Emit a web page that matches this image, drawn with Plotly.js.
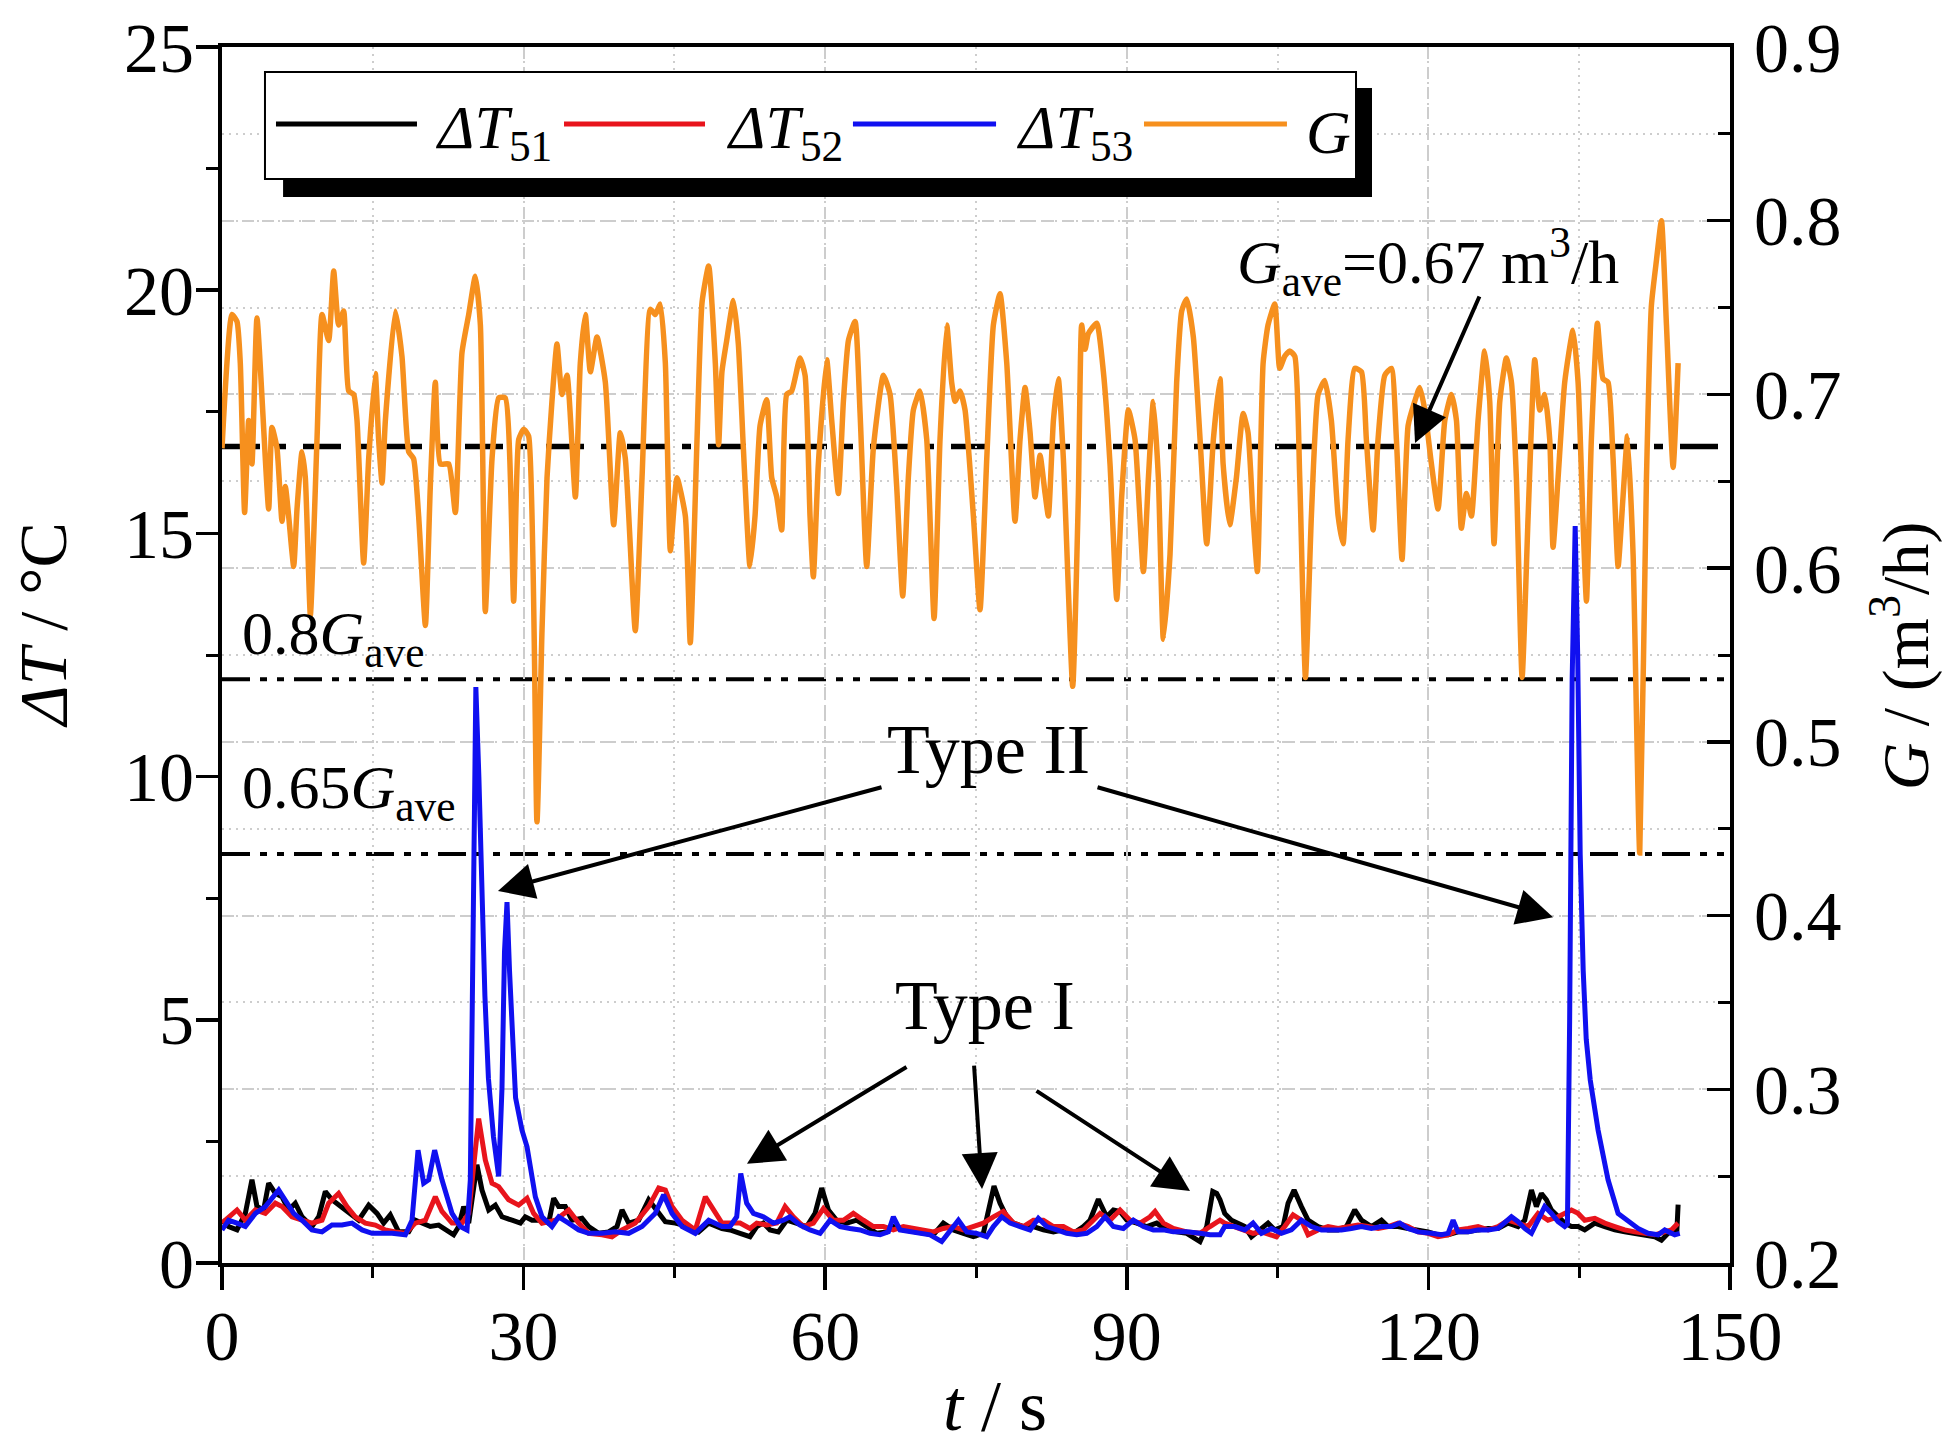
<!DOCTYPE html>
<html>
<head>
<meta charset="utf-8">
<script src="https://cdn.plot.ly/plotly-3.0.1.min.js"></script>
<style>html,body{margin:0;padding:0;background:#fff;}#chart{width:1950px;height:1446px;}</style>
</head>
<body>
<div id="chart"></div>
<script>
// ---------------- data (time in s, value) ----------------
const G_series = [
[0,0.669],[0.99,0.746],[1.49,0.742],[1.82,0.718],[2.25,0.632],[2.65,0.685],[2.98,0.660],[3.48,0.744],[4.64,0.634],[4.97,0.681],
[5.47,0.669],[5.97,0.627],[6.30,0.647],[6.63,0.630],[7.13,0.601],[7.46,0.634],[7.96,0.667],[8.29,0.652],[8.79,0.573],[9.45,0.674],
[9.95,0.746],[10.61,0.731],[11.11,0.771],[11.60,0.740],[12.10,0.748],[12.60,0.702],[13.10,0.700],[13.43,0.685],[14.09,0.603],[14.59,0.663],
[15.25,0.712],[15.58,0.674],[15.92,0.649],[16.25,0.685],[17.24,0.748],[17.90,0.722],[18.57,0.667],[19.06,0.663],[19.56,0.630],[20.23,0.567],
[20.72,0.647],[21.22,0.707],[21.72,0.660],[22.55,0.660],[23.21,0.632],[23.87,0.724],[24.54,0.746],[25.20,0.768],[25.70,0.740],[26.19,0.575],
[26.86,0.663],[27.52,0.698],[28.18,0.698],[29.01,0.581],[29.51,0.674],[30.01,0.680],[30.50,0.676],[31.33,0.454],[31.83,0.564],[32.33,0.652],
[32.82,0.696],[33.32,0.729],[33.82,0.700],[34.32,0.711],[35.15,0.641],[35.64,0.718],[36.14,0.746],[36.64,0.713],[37.30,0.733],[38.13,0.707],
[38.96,0.625],[39.62,0.678],[40.12,0.663],[41.11,0.564],[41.78,0.652],[42.61,0.749],[43.10,0.746],[43.60,0.752],[44.10,0.718],[44.60,0.610],
[45.26,0.652],[46.09,0.630],[46.58,0.557],[47.25,0.674],[47.75,0.753],[48.41,0.774],[49.07,0.718],[49.40,0.671],[49.73,0.713],
[50.20,0.731],[50.87,0.754],[51.36,0.729],[51.86,0.669],[52.52,0.601],[53.02,0.630],[53.52,0.682],[54.18,0.697],[54.68,0.652],[55.18,0.641],
[55.67,0.622],[56.17,0.700],[56.67,0.702],[57.50,0.721],[58.00,0.711],[58.49,0.630],[58.82,0.595],[59.32,0.660],[60.15,0.720],[60.65,0.685],
[61.31,0.643],[61.81,0.696],[62.31,0.731],[62.97,0.742],[63.47,0.689],[64.13,0.601],[64.79,0.669],[65.79,0.711],[66.45,0.700],[67.11,0.647],
[67.71,0.584],[68.27,0.652],[68.77,0.691],[69.43,0.702],[70.10,0.674],[70.83,0.571],[71.42,0.674],[72.09,0.740],[72.58,0.707],[72.92,0.696],
[73.41,0.702],[73.91,0.691],[74.74,0.630],[75.40,0.576],[76.07,0.663],[76.73,0.740],[77.39,0.758],[78.06,0.718],[78.88,0.627],[79.38,0.674],
[79.88,0.704],[80.38,0.678],[80.87,0.641],[81.37,0.665],[81.87,0.643],[82.20,0.630],[82.70,0.685],[83.19,0.709],[83.69,0.663],[84.62,0.532],
[85.18,0.641],[85.51,0.740],[85.85,0.726],[86.18,0.735],[87.01,0.741],[87.67,0.713],[88.33,0.660],[89.00,0.582],[89.49,0.641],[90.16,0.691],
[90.82,0.674],[91.65,0.598],[92.15,0.652],[92.64,0.696],[93.14,0.652],[93.64,0.559],[94.30,0.608],[94.96,0.707],[95.46,0.748],[95.96,0.755],
[96.62,0.733],[97.29,0.674],[97.95,0.614],[98.61,0.674],[99.27,0.709],
[99.58,0.660],[100.24,0.625],[100.90,0.652],[101.57,0.689],[102.06,0.678],[102.56,0.630],[102.99,0.598],[103.56,0.718],[104.05,0.740],[104.72,0.752],
[105.21,0.715],[105.71,0.722],[106.21,0.725],[106.71,0.722],[107.20,0.652],[107.77,0.537],[108.36,0.630],[109.03,0.700],[109.69,0.708],[110.35,0.685],
[111.02,0.630],[111.51,0.614],[112.01,0.674],[112.67,0.715],[113.34,0.713],[113.83,0.674],[114.50,0.622],[114.99,0.674],[115.66,0.711],[116.32,0.715],
[116.82,0.674],[117.38,0.605],[117.98,0.682],[118.64,0.696],[119.14,0.704],[119.64,0.691],[120.30,0.660],[120.96,0.634],[121.63,0.685],[122.29,0.700],
[122.79,0.685],[123.28,0.623],[123.78,0.643],[124.28,0.630],[124.94,0.685],[125.60,0.725],[126.10,0.696],[126.53,0.614],[127.10,0.696],[127.76,0.721],
[128.26,0.707],[128.75,0.652],[129.32,0.537],[129.92,0.630],[130.58,0.720],[131.08,0.691],[131.57,0.700],[132.07,0.674],[132.40,0.612],[132.90,0.652],
[133.56,0.707],[134.39,0.737],[134.89,0.707],[135.39,0.625],[135.72,0.581],[136.21,0.674],[136.81,0.741],[137.37,0.709],[137.87,0.707],[138.37,0.663],
[138.87,0.601],[139.36,0.641],[139.80,0.676],[140.36,0.608],[141.02,0.436],[141.69,0.652],[142.18,0.751],[142.68,0.777],[143.18,0.800],[143.68,0.740],
[144.34,0.658],[144.84,0.718]
];

const dT51_series = [
[0,0.88],[0.66,0.75],[1.49,0.68],[2.32,1.02],[2.98,1.71],[3.48,1.16],[4.14,1.09],[4.64,1.64],[5.31,1.43],[5.97,1.36],
[6.63,1.09],[7.29,1.23],[7.96,0.95],[8.95,0.75],[9.62,0.95],[10.28,1.47],[10.94,1.30],[11.77,1.16],[12.60,1.02],[13.59,0.88],
[14.59,1.19],[15.42,1.02],[16.08,0.82],[16.74,0.99],[17.57,0.64],[18.57,0.64],[19.23,0.88],[19.89,0.82],[20.72,0.75],[21.55,0.78],
[22.38,0.68],[23.04,0.58],[23.54,0.75],[24.04,1.16],[24.54,0.82],[24.87,1.36],[25.36,2.02],[25.86,1.50],[26.53,1.09],[27.19,1.19],
[27.85,0.95],[28.85,0.88],[29.68,0.82],[30.17,0.95],[30.84,0.88],[31.83,0.88],[32.49,0.82],[32.99,1.33],[33.49,1.16],[34.15,1.16],
[34.81,0.88],[35.81,0.92],[36.47,0.75],[37.47,0.61],[38.46,0.64],[39.29,0.75],[39.79,1.09],[40.45,0.82],[41.45,0.88],[42.44,1.30],
[43.44,1.02],[44.10,0.85],[45.09,0.82],[46.42,0.75],[47.41,0.64],[48.41,0.82],[49.73,0.71],
[50.53,0.68],[51.53,0.61],[52.52,0.54],[53.19,0.75],[53.85,0.82],[54.51,0.68],[55.34,0.64],[56.17,0.88],[57.17,0.82],[58.16,0.75],
[58.99,1.02],[59.65,1.54],[60.32,1.09],[61.14,0.88],[62.14,0.82],[63.13,0.88],[64.13,0.75],[65.12,0.61],[66.12,0.64],[66.78,0.75],
[67.78,0.68],[68.77,0.64],[69.77,0.61],[70.76,0.58],[71.75,0.82],[72.75,0.68],[73.74,0.61],[74.74,0.54],[75.73,0.61],[76.23,1.02],
[76.79,1.58],[77.39,1.23],[78.06,0.95],[78.72,0.82],[79.71,0.75],[80.71,0.75],[81.70,0.68],[82.70,0.64],[83.69,0.68],[84.69,0.61],
[85.68,0.75],[86.34,0.88],[87.17,1.31],[88.00,0.95],[88.67,1.09],[89.33,1.06],[90.00,0.88],[90.99,0.82],[91.98,0.75],[92.97,0.82],
[93.97,0.68],[94.96,0.64],[95.96,0.61],[97.28,0.44],[97.95,0.75],[98.55,1.47],[98.94,1.43],[99.27,1.30],
[99.74,1.02],[100.41,0.88],[101.07,0.82],[101.73,0.75],[102.40,0.54],[103.22,0.68],[104.05,0.82],[104.72,0.68],[105.55,0.75],[106.04,1.23],
[106.64,1.50],[107.37,1.16],[108.03,0.88],[109.03,0.75],[110.02,0.68],[111.02,0.68],[111.85,0.75],[112.67,1.09],[113.34,0.88],[114.33,0.75],
[115.33,0.88],[115.99,0.75],[116.98,0.75],[117.98,0.71],[118.97,0.68],[119.97,0.64],[120.96,0.58],[121.96,0.58],[122.95,0.64],[123.95,0.64],
[124.94,0.68],[125.94,0.71],[126.93,0.71],[127.93,0.82],[128.92,0.75],[129.58,0.88],[130.25,1.50],[130.74,1.16],[131.24,1.43],[131.74,1.30],
[132.24,1.09],[132.90,0.95],[133.56,0.82],[134.23,0.75],[134.89,0.75],[135.55,0.68],[136.55,0.82],[137.54,0.75],[138.54,0.68],[139.53,0.64],
[140.53,0.61],[141.52,0.58],[142.52,0.54],[143.18,0.47],[143.84,0.61],[144.50,0.64],[144.70,0.60],[144.84,1.20]
];

const dT52_series = [
[0,0.82],[0.66,0.95],[1.49,1.09],[2.32,0.88],[3.32,1.09],[4.31,1.02],[5.31,1.23],[5.97,1.16],[6.96,0.95],[7.96,0.88],
[8.95,0.82],[9.95,0.88],[10.61,1.23],[11.60,1.43],[12.43,1.16],[13.26,0.95],[14.26,0.82],[15.25,0.78],[16.25,0.68],[17.24,0.64],
[18.24,0.61],[19.23,0.82],[20.23,0.88],[21.22,1.36],[21.88,1.06],[22.88,0.82],[23.87,0.82],[24.54,1.02],[25.03,2.05],[25.53,2.97],
[26.19,2.12],[26.86,1.64],[27.52,1.57],[28.51,1.30],[29.51,1.19],[30.34,1.33],[31.00,1.02],[31.83,0.82],[33.16,0.88],[34.48,1.09],
[35.48,0.82],[36.47,0.61],[37.80,0.58],[38.79,0.54],[39.79,0.68],[41.11,0.82],[42.44,1.16],[43.44,1.54],[44.10,1.50],[44.76,1.16],
[45.76,0.88],[47.08,0.68],[48.08,1.36],[49.07,1.02],[49.73,0.82],
[50.53,0.82],[51.53,0.82],[52.52,0.71],[53.19,0.82],[54.18,0.78],[55.18,0.82],[56.01,1.16],[56.83,0.95],[57.83,0.75],[58.82,0.82],
[59.82,1.12],[60.81,0.88],[61.81,0.88],[62.80,1.02],[63.80,0.88],[64.79,0.75],[65.79,0.75],[66.78,0.68],[67.78,0.75],[68.77,0.71],
[69.77,0.68],[70.76,0.64],[71.75,0.71],[72.75,0.75],[73.74,0.68],[74.74,0.75],[75.73,0.82],[76.73,0.95],[77.72,1.06],[78.72,0.82],
[79.71,0.75],[80.71,0.88],[81.70,0.88],[82.70,0.75],[83.69,0.75],[84.69,0.64],[85.68,0.68],[86.67,0.88],[87.34,1.02],[88.33,0.88],
[89.33,1.09],[90.32,0.88],[91.32,0.82],[92.31,0.95],[92.81,1.06],[93.64,0.82],[94.63,0.71],[95.96,0.64],[97.28,0.61],[98.28,0.75],
[99.27,0.88],
[99.74,0.82],[100.74,0.75],[101.73,0.68],[102.56,0.61],[103.39,0.64],[104.88,0.54],[105.71,0.75],[106.54,0.99],[107.37,0.88],[108.03,0.58],
[109.03,0.68],[110.02,0.75],[111.02,0.71],[112.01,0.75],[113.00,0.78],[114.00,0.75],[115.00,0.71],[115.99,0.75],[116.98,0.82],[117.98,0.75],
[118.97,0.64],[119.97,0.61],[120.96,0.54],[121.96,0.58],[122.95,0.68],[123.95,0.71],[124.94,0.75],[125.94,0.68],[126.93,0.75],[127.93,0.88],
[128.92,0.82],[129.92,0.75],[130.91,1.02],[131.90,0.88],[132.90,0.95],[133.56,1.02],[134.23,1.09],[134.89,1.02],[135.55,0.88],[136.55,0.92],
[137.54,0.82],[138.54,0.75],[139.53,0.68],[140.53,0.64],[141.52,0.61],[142.52,0.58],[143.51,0.64],[144.17,0.68],[144.84,0.82]
];

const dT53_series = [
[0,0.68],[0.66,0.88],[1.49,0.82],[2.32,0.75],[3.32,1.02],[4.31,1.16],[5.64,1.50],[6.30,1.30],[7.13,1.02],[7.96,0.88],
[8.95,0.68],[9.95,0.64],[10.94,0.78],[11.94,0.78],[12.93,0.82],[13.93,0.68],[14.92,0.61],[15.92,0.61],[16.91,0.61],[18.24,0.58],
[18.90,0.88],[19.50,2.32],[20.06,1.64],[20.56,1.71],[21.15,2.32],[21.88,1.71],[22.88,1.02],[23.71,0.75],[24.37,0.68],[24.70,1.71],
[24.95,6.0],[25.25,11.84],[25.55,10.0],[25.85,7.5],[26.15,5.5],[26.50,3.8],[27.00,2.6],[27.52,1.78],[27.85,3.6],[28.10,6.4],
[28.35,7.42],[28.60,6.0],[28.90,4.5],[29.20,3.4],[29.84,2.73],[30.34,2.39],[31.17,1.36],[31.83,0.95],[32.82,0.75],[33.49,0.95],
[34.48,0.82],[35.48,0.68],[36.47,0.61],[37.80,0.61],[39.12,0.64],[40.45,0.61],[41.78,0.75],[43.10,1.02],[43.93,1.40],[44.76,1.02],
[45.76,0.75],[47.08,0.61],[48.41,0.88],[49.73,0.75],
[50.53,0.75],[51.20,0.95],[51.60,1.84],[52.19,1.23],[52.86,1.02],[53.85,0.95],[54.85,0.82],[55.84,0.88],[56.50,0.95],[57.50,0.78],
[58.49,0.68],[59.49,0.61],[60.48,0.88],[61.48,0.75],[62.47,0.71],[63.47,0.68],[64.46,0.61],[65.46,0.58],[66.28,0.64],[66.78,0.95],
[67.44,0.68],[68.44,0.64],[69.43,0.61],[70.43,0.58],[71.59,0.44],[72.42,0.68],[73.25,0.88],[74.08,0.64],[75.07,0.61],[76.07,0.54],
[76.73,0.75],[77.56,0.95],[78.39,0.82],[79.38,0.75],[80.38,0.68],[81.20,0.92],[82.03,0.75],[83.03,0.68],[84.02,0.61],[85.02,0.58],
[86.01,0.61],[87.01,0.75],[87.84,0.95],[88.67,0.75],[89.66,0.71],[90.65,0.88],[91.65,0.75],[92.64,0.68],[93.64,0.68],[94.63,0.64],
[95.96,0.64],[97.28,0.61],[98.28,0.58],[99.27,0.58],
[99.74,0.75],[100.74,0.75],[101.73,0.68],[102.56,0.82],[103.39,0.61],[104.39,0.71],[105.38,0.61],[106.37,0.68],[107.37,0.88],[108.36,0.75],
[109.36,0.68],[110.35,0.68],[111.35,0.68],[112.34,0.71],[113.34,0.75],[114.33,0.71],[115.33,0.75],[116.32,0.75],[117.15,0.82],[117.98,0.71],
[118.97,0.64],[120.30,0.61],[121.29,0.58],[121.96,0.61],[122.46,0.88],[122.95,0.64],[123.95,0.64],[124.94,0.68],[125.94,0.68],[126.93,0.71],
[127.59,0.82],[128.26,0.95],[128.92,0.85],[129.58,0.71],[130.25,0.61],[130.91,0.88],[131.57,1.16],[132.24,1.02],[132.90,0.85],[133.56,0.75],
[133.83,0.80],[134.05,5.0],[134.30,12.0],[134.60,15.15],[134.85,12.5],[135.10,8.4],[135.40,6.0],[135.70,4.6],[136.10,3.76],[136.88,2.73],
[137.87,1.71],[138.87,1.02],[139.86,0.85],[140.86,0.71],[141.85,0.61],[142.85,0.58],[143.51,0.68],[144.17,0.61],[144.50,0.58],[145.00,0.61]
];

const G_ave = 0.67;
const refFactors = [1.0, 0.8, 0.65];

// tick values
const xTicks = [0, 30, 60, 90, 120, 150];
const dTTicks = [0, 5, 10, 15, 20, 25];
const GTicks = [0.2, 0.3, 0.4, 0.5, 0.6, 0.7, 0.8, 0.9];

// legend entries and axis titles
const legendNames = ['<i>ΔT</i><sub>51</sub>', '<i>ΔT</i><sub>52</sub>', '<i>ΔT</i><sub>53</sub>', '<i>G</i>'];
const seriesColors = ['#000000', '#e8141c', '#1010f0', '#f6901e'];
const titleX = '<i>t</i> / s';
const titleLeft = '<i>ΔT</i> / °C';
const titleRight = '<i>G</i> / (m<sup>3</sup>/h)';

// annotation anchors in data units (t, ΔT): [headX, headY, tailX, tailY]
const arrowPairs = [
  [118.67, 16.86, 125.14, 19.90],
  [27.45, 7.65, 65.75, 9.79],
  [132.40, 7.11, 86.94, 9.79],
  [52.22, 2.04, 68.24, 4.05],
  [75.60, 1.52, 74.80, 4.09],
  [96.29, 1.48, 80.87, 3.56]
];

// ---------------- build ----------------
const FONT = 'Liberation Serif, Times New Roman, serif';
const col = (arr, i) => arr.map(p => p[i]);

const traces = [
  {x: col(G_series,0), y: col(G_series,1), yaxis: 'y', type: 'scatter', mode: 'lines',
   name: 'G', line: {color: seriesColors[3], width: 5.5, shape: 'spline', smoothing: 0.5}, showlegend: false, hoverinfo: 'skip'},
  {x: col(dT51_series,0), y: col(dT51_series,1), yaxis: 'y2', type: 'scatter', mode: 'lines',
   name: 'ΔT51', line: {color: seriesColors[0], width: 5}, showlegend: false, hoverinfo: 'skip'},
  {x: col(dT52_series,0), y: col(dT52_series,1), yaxis: 'y2', type: 'scatter', mode: 'lines',
   name: 'ΔT52', line: {color: seriesColors[1], width: 5}, showlegend: false, hoverinfo: 'skip'},
  {x: col(dT53_series,0), y: col(dT53_series,1), yaxis: 'y2', type: 'scatter', mode: 'lines',
   name: 'ΔT53', line: {color: seriesColors[2], width: 5}, showlegend: false, hoverinfo: 'skip'}
];

const shapes = [];
// reference flow lines
refFactors.forEach((f, i) => {
  shapes.push({type: 'line', xref: 'paper', x0: 0, x1: 1, yref: 'y', y0: G_ave*f, y1: G_ave*f,
    layer: 'between',
    line: {color: '#000', width: i === 0 ? 5.5 : 4,
           dash: i === 0 ? '38px,17px,9px,17px' : '28px,10px,7px,10px,7px,10px'}});
});
// custom legend: shadow, box, sample lines
shapes.push({type: 'rect', xref: 'paper', yref: 'paper', x0: 0.0405, x1: 0.7626, y0: 0.8766, y1: 0.9663,
  fillcolor: '#000', line: {width: 0}, layer: 'above'});
shapes.push({type: 'rect', xref: 'paper', yref: 'paper', x0: 0.0285, x1: 0.752, y0: 0.8914, y1: 0.9794,
  fillcolor: '#fff', line: {color: '#000', width: 2}, layer: 'above'});
const legLineX = [[0.0358, 0.1293], [0.2268, 0.3203], [0.4184, 0.5133], [0.6114, 0.7062]];
const legTextX = [0.1399, 0.3329, 0.5252, 0.7175];
legLineX.forEach((lx, i) => {
  shapes.push({type: 'line', xref: 'paper', yref: 'paper', x0: lx[0], x1: lx[1], y0: 0.9367, y1: 0.9367,
    line: {color: seriesColors[i], width: 5}, layer: 'above'});
});

const annotations = [];
legendNames.forEach((nm, i) => {
  annotations.push({xref: 'paper', yref: 'paper', x: legTextX[i], y: 0.9367, xanchor: 'left', yanchor: 'middle',
    text: nm, showarrow: false, font: {family: FONT, size: 62, color: '#000'}, yshift: -8});
});
const labelFont = {family: FONT, size: 62, color: '#000'};
const bigFont = {family: FONT, size: 70, color: '#000'};
annotations.push({xref: 'x', yref: 'y2', x: 120, y: 20.6, text: '<i>G</i><sub>ave</sub>=0.67 m<sup>3</sup>/h',
  showarrow: false, font: labelFont, xanchor: 'center', yanchor: 'middle'});
annotations.push({xref: 'x', yref: 'y2', x: 1.8, y: 12.85, text: '0.8<i>G</i><sub>ave</sub>',
  showarrow: false, font: labelFont, xanchor: 'left', yanchor: 'middle'});
annotations.push({xref: 'x', yref: 'y2', x: 1.8, y: 9.7, text: '0.65<i>G</i><sub>ave</sub>',
  showarrow: false, font: labelFont, xanchor: 'left', yanchor: 'middle'});
annotations.push({xref: 'x', yref: 'y2', x: 76.2, y: 10.55, text: 'Type II',
  showarrow: false, font: bigFont, xanchor: 'center', yanchor: 'middle'});
annotations.push({xref: 'x', yref: 'y2', x: 75.9, y: 5.3, text: 'Type I',
  showarrow: false, font: bigFont, xanchor: 'center', yanchor: 'middle'});
arrowPairs.forEach(a => {
  annotations.push({xref: 'x', yref: 'y2', x: a[0], y: a[1], axref: 'x', ayref: 'y2', ax: a[2], ay: a[3],
    text: '', showarrow: true, arrowhead: 2, arrowsize: 1.8, arrowwidth: 4, arrowcolor: '#000', standoff: 0});
});
// axis titles
annotations.push({xref: 'paper', yref: 'paper', x: -0.119, y: 0.524, text: titleLeft, textangle: -90,
  showarrow: false, font: {family: FONT, size: 68, color: '#000'}, xanchor: 'center', yanchor: 'middle'});
annotations.push({xref: 'paper', yref: 'paper', x: 1.1135, y: 0.499, text: titleRight, textangle: -90,
  showarrow: false, font: {family: FONT, size: 66, color: '#000'}, xanchor: 'center', yanchor: 'middle'});
annotations.push({xref: 'paper', yref: 'paper', x: 0.5126, y: -0.1176, text: titleX,
  showarrow: false, font: {family: FONT, size: 72, color: '#000'}, xanchor: 'center', yanchor: 'middle'});

const gridCol = '#cdcdcd';
const layout = {
  width: 1950, height: 1446,
  margin: {l: 222, r: 220, t: 47, b: 183, autoexpand: false},
  paper_bgcolor: '#fff', plot_bgcolor: '#fff',
  font: {family: FONT, size: 70, color: '#000'},
  showlegend: false,
  xaxis: {
    range: [0, 150], tickvals: xTicks, ticktext: xTicks.map(String),
    ticks: 'outside', ticklen: 23, tickwidth: 3.5, tickcolor: '#000',
    showline: true, linewidth: 4, linecolor: '#000', mirror: true,
    showgrid: true, gridcolor: gridCol, gridwidth: 2, griddash: '12px,8px', zeroline: false,
    minor: {dtick: 15, tick0: 0, ticks: 'outside', ticklen: 11, tickwidth: 3, tickcolor: '#000',
            showgrid: true, gridcolor: gridCol, gridwidth: 2, griddash: '2px,5px'},
    tickfont: {family: FONT, size: 70}, ticklabelstandoff: -14
  },
  yaxis: {
    side: 'right', range: [0.2, 0.9], tickvals: GTicks, ticktext: GTicks.map(v => v.toFixed(1)),
    ticks: 'inside', ticklen: 23, tickwidth: 3.5, tickcolor: '#000',
    showline: true, linewidth: 4, linecolor: '#000',
    showgrid: true, gridcolor: gridCol, gridwidth: 2, griddash: '12px,8px', zeroline: false,
    minor: {dtick: 0.05, tick0: 0.2, ticks: 'inside', ticklen: 12, tickwidth: 3, tickcolor: '#000',
            showgrid: true, gridcolor: gridCol, gridwidth: 2, griddash: '2px,5px'},
    tickfont: {family: FONT, size: 70}, ticklabelstandoff: 6
  },
  yaxis2: {
    overlaying: 'y', side: 'left', range: [0, 25], tickvals: dTTicks, ticktext: dTTicks.map(String),
    ticks: 'outside', ticklen: 22, tickwidth: 3.5, tickcolor: '#000',
    showline: true, linewidth: 4, linecolor: '#000',
    showgrid: false, zeroline: false,
    minor: {dtick: 2.5, tick0: 0, ticks: 'outside', ticklen: 12, tickwidth: 3, tickcolor: '#000', showgrid: false},
    tickfont: {family: FONT, size: 70}, ticklabelstandoff: -12
  },
  shapes: shapes,
  annotations: annotations
};

Plotly.newPlot('chart', traces, layout, {staticPlot: true, displayModeBar: false});
</script>
</body>
</html>
